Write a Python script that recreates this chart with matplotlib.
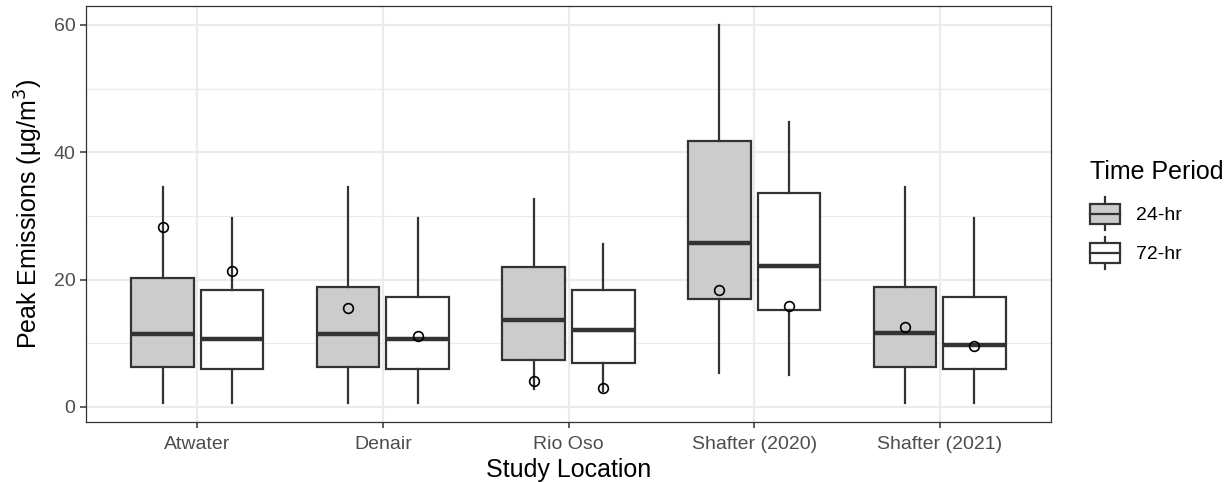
import matplotlib
matplotlib.use("Agg")
import matplotlib.pyplot as plt
from matplotlib.legend_handler import HandlerBase
from matplotlib.patches import Rectangle
from matplotlib.lines import Line2D
import numpy as np

plt.rcParams['font.family'] = ['Liberation Sans', 'DejaVu Sans']

# data
locations = ["Atwater", "Denair", "Rio Oso", "Shafter (2020)", "Shafter (2021)"]
periods = ["24-hr", "72-hr"]

whislo_24 = [0.6, 0.6, 2.8, 5.3, 0.6]
q1_24 = [6.3, 6.3, 7.4, 16.9, 6.3]
med_24 = [11.4, 11.4, 13.6, 25.8, 11.6]
q3_24 = [20.3, 18.9, 21.9, 41.8, 18.9]
whishi_24 = [34.5, 34.5, 32.6, 60.0, 34.5]
point_24 = [28.2, 15.5, 4.1, 18.4, 12.6]

whislo_72 = [0.6, 0.6, 2.5, 5.0, 0.6]
q1_72 = [6.0, 6.0, 6.9, 15.2, 6.0]
med_72 = [10.7, 10.6, 12.1, 22.2, 9.8]
q3_72 = [18.3, 17.2, 18.4, 33.6, 17.2]
whishi_72 = [29.7, 29.7, 25.6, 44.8, 29.7]
point_72 = [21.4, 11.2, 3.0, 15.9, 9.6]

fills = ["#CCCCCC", "#FFFFFF"]
edge = "#333333"
dodge = 0.1875
box_w = 0.3375


def make_stats(lo, q1, med, q3, hi):
    return [dict(whislo=a, q1=b, med=c, q3=d, whishi=e, fliers=[])
            for a, b, c, d, e in zip(lo, q1, med, q3, hi)]


stats = [make_stats(whislo_24, q1_24, med_24, q3_24, whishi_24),
         make_stats(whislo_72, q1_72, med_72, q3_72, whishi_72)]
points = [point_24, point_72]

fig = plt.figure(figsize=(12.3, 4.82), dpi=100)
ax = fig.add_axes([0.0699, 0.1245, 0.7846, 0.8631])

x = np.arange(1, len(locations) + 1)
for i, (st, col) in enumerate(zip(stats, fills)):
    pos = x + (-dodge if i == 0 else dodge)
    ax.bxp(st, positions=pos, widths=box_w, patch_artist=True,
           showfliers=False, showcaps=False, manage_ticks=False,
           boxprops=dict(facecolor=col, edgecolor=edge, linewidth=1.6),
           whiskerprops=dict(color=edge, linewidth=1.6),
           medianprops=dict(color=edge, linewidth=3.2, solid_capstyle='butt'),
           zorder=3)
    ax.plot(pos, points[i], linestyle='none', marker='o', markersize=7,
            markerfacecolor='none', markeredgecolor='black',
            markeredgewidth=1.2, zorder=4)

ax.set_xlim(0.4, 5.6)
ax.set_ylim(-2.37, 62.97)
ax.set_xticks(x)
ax.set_xticklabels(locations)
ax.set_yticks([0, 20, 40, 60])
ax.set_yticks([10, 30, 50], minor=True)
ax.tick_params(axis='both', which='major', labelsize=14, colors='#4D4D4D',
               length=4, width=1.1, color='#333333')
ax.tick_params(axis='x', which='major', pad=6)
ax.tick_params(axis='both', which='minor', length=0)
ax.grid(True, which='major', color='#EBEBEB', linewidth=1.6, zorder=0)
ax.grid(True, which='minor', axis='y', color='#EBEBEB', linewidth=0.9, zorder=0)
ax.set_axisbelow(True)
for s in ax.spines.values():
    s.set_color('#333333')
    s.set_linewidth(0.9)

ax.set_xlabel("Study Location", fontsize=18, labelpad=4)
ax.set_ylabel("Peak Emissions (μg/m$^3$)", fontsize=18, labelpad=6)


class BoxHandler(HandlerBase):
    def create_artists(self, legend, orig_handle, xdescent, ydescent,
                       width, height, fontsize, trans):
        x0, y0 = -xdescent, -ydescent
        cx = x0 + width / 2
        b0, b1 = y0 + 0.2 * height, y0 + 0.8 * height
        arts = [
            Line2D([cx, cx], [y0, b0], color=edge, lw=1.6),
            Line2D([cx, cx], [b1, y0 + height], color=edge, lw=1.6),
            Rectangle((x0, b0), width, b1 - b0, facecolor=orig_handle,
                      edgecolor=edge, lw=1.6),
            Line2D([x0, x0 + width], [(b0 + b1) / 2] * 2, color=edge, lw=1.6),
        ]
        for a in arts:
            a.set_transform(trans)
        return arts


leg = fig.legend(fills, periods, handler_map={str: BoxHandler()},
                 title="Time Period", loc='upper left',
                 bbox_to_anchor=(1076 / 1230, 1 - 146 / 482),
                 frameon=False, fontsize=14, title_fontsize=18,
                 handlelength=1.55, handleheight=2.2, labelspacing=0.35,
                 handletextpad=0.85, borderpad=0.2, alignment='left')
# a bit more room between the legend title and the keys
leg._legend_box.sep = 10

fig.savefig("out.png", dpi=100)
